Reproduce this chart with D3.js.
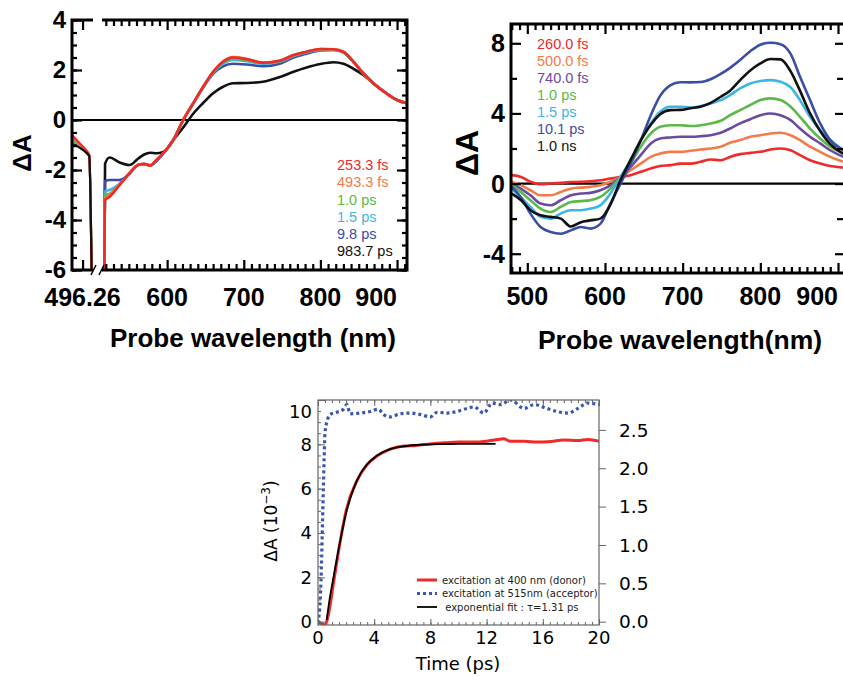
<!DOCTYPE html>
<html>
<head>
<meta charset="utf-8">
<script src="https://cdn.jsdelivr.net/npm/d3@7"></script>
<style>
  body { margin: 0; background: #fff; }
  svg { display: block; }
</style>
</head>
<body>
<svg width="843" height="676"></svg>
<script>
// ---------- panel A (top left) ----------
const labelsA = ["253.3 fs", "493.3 fs", "1.0 ps", "1.5 ps", "9.8 ps", "983.7 ps"];
const coloursA = ["#ee2a2a", "#f47b48", "#5cb848", "#3cb6e6", "#3a4ea6", "#111111"];
// left piece of the broken axis (around 496.26 nm)
const wlA_left = [494, 495, 496, 497, 497.7, 498.2];
const valsA_left = [
  [-0.6, -0.8, -1.0, -1.2, -1.4, -6],
  [-0.7, -0.85, -1.05, -1.22, -1.42, -6],
  [-0.8, -0.9, -1.08, -1.25, -1.43, -6],
  [-0.85, -0.95, -1.1, -1.27, -1.44, -6],
  [-0.95, -1.0, -1.12, -1.28, -1.45, -6],
  [-1.05, -1.05, -1.15, -1.3, -1.45, -6]
];
// main piece
const wlA = [518, 519, 525, 538, 551, 562, 570, 578, 586, 595, 608, 621, 634, 647, 660, 673, 686, 704, 725, 747, 765, 782, 800, 817, 830, 843, 856, 869, 886, 900, 913];
const valsA = [
  [-6, -3.2, -3.07, -2.6, -2.13, -1.8, -1.75, -1.83, -1.6, -1.33, -0.8, 0, 0.67, 1.33, 1.93, 2.33, 2.5, 2.43, 2.29, 2.37, 2.6, 2.73, 2.84, 2.83, 2.73, 2.33, 1.87, 1.47, 1.07, 0.8, 0.67],
  [-6, -3.15, -3.0, -2.58, -2.12, -1.8, -1.76, -1.82, -1.6, -1.33, -0.8, 0, 0.67, 1.33, 1.93, 2.35, 2.52, 2.45, 2.3, 2.38, 2.6, 2.73, 2.84, 2.83, 2.73, 2.33, 1.87, 1.47, 1.07, 0.8, 0.67],
  [-6, -3.0, -2.95, -2.57, -2.12, -1.8, -1.76, -1.82, -1.6, -1.33, -0.8, 0, 0.67, 1.33, 1.9, 2.3, 2.45, 2.4, 2.28, 2.35, 2.58, 2.72, 2.82, 2.82, 2.72, 2.33, 1.87, 1.47, 1.07, 0.8, 0.67],
  [-6, -2.85, -2.8, -2.55, -2.12, -1.8, -1.76, -1.82, -1.6, -1.33, -0.8, 0, 0.66, 1.3, 1.88, 2.25, 2.4, 2.35, 2.25, 2.33, 2.56, 2.7, 2.8, 2.8, 2.7, 2.33, 1.87, 1.47, 1.07, 0.8, 0.67],
  [-6, -2.45, -2.4, -2.4, -2.15, -1.8, -1.78, -1.8, -1.65, -1.35, -0.8, 0, 0.65, 1.3, 1.85, 2.15, 2.25, 2.22, 2.15, 2.25, 2.5, 2.65, 2.78, 2.8, 2.7, 2.33, 1.87, 1.47, 1.07, 0.8, 0.67],
  [-6, -1.75, -1.5, -1.7, -1.8, -1.55, -1.38, -1.31, -1.33, -1.28, -0.8, -0.3, 0.25, 0.68, 1.07, 1.33, 1.47, 1.48, 1.53, 1.72, 1.93, 2.1, 2.24, 2.31, 2.25, 2.05, 1.8, 1.47, 1.07, 0.8, 0.67]
];

// ---------- panel B (top right) ----------
const labelsB = ["260.0 fs", "500.0 fs", "740.0 fs", "1.0 ps", "1.5 ps", "10.1 ps", "1.0 ns"];
const coloursB = ["#ee2a2a", "#f47b48", "#6b4ba0", "#5cb848", "#3cb6e6", "#3a4ea6", "#111111"];
const wlB = [480, 492, 504, 517, 530, 543, 556, 569, 581, 594, 607, 620, 633, 646, 659, 671, 684, 697, 710, 723, 736, 749, 761, 774, 787, 800, 813, 826, 839, 851, 864, 877, 890, 907, 920];
const valsB = [
  [0.48, 0.38, 0.10, -0.04, 0.0, 0.04, 0.08, 0.10, 0.13, 0.19, 0.29, 0.38, 0.48, 0.67, 0.86, 1.0, 1.05, 1.14, 1.14, 1.24, 1.37, 1.33, 1.52, 1.68, 1.75, 1.81, 1.94, 2.0, 1.9, 1.62, 1.33, 1.14, 1.0, 0.91, 0.85],
  [0.1, -0.1, -0.38, -0.67, -0.67, -0.48, -0.29, -0.23, -0.19, -0.1, 0.1, 0.38, 0.76, 1.14, 1.52, 1.71, 1.81, 1.81, 1.87, 1.94, 2.0, 2.1, 2.33, 2.48, 2.67, 2.76, 2.86, 2.9, 2.76, 2.48, 2.1, 1.81, 1.52, 1.24, 1.1],
  [0.0, -0.3, -0.67, -1.14, -1.24, -0.95, -0.67, -0.57, -0.53, -0.38, -0.1, 0.38, 0.95, 1.62, 2.29, 2.57, 2.63, 2.67, 2.67, 2.7, 2.76, 2.9, 3.14, 3.43, 3.67, 3.9, 4.0, 3.9, 3.62, 3.14, 2.67, 2.29, 1.9, 1.52, 1.3],
  [-0.1, -0.5, -0.95, -1.43, -1.62, -1.33, -1.05, -1.0, -0.95, -0.76, -0.29, 0.38, 1.14, 2.1, 2.86, 3.24, 3.33, 3.33, 3.28, 3.33, 3.43, 3.58, 3.9, 4.19, 4.48, 4.76, 4.86, 4.76, 4.38, 3.81, 3.14, 2.57, 2.1, 1.71, 1.5],
  [-0.29, -0.8, -1.33, -1.9, -2.0, -1.71, -1.52, -1.52, -1.43, -1.24, -0.57, 0.38, 1.33, 2.48, 3.43, 4.1, 4.38, 4.38, 4.34, 4.42, 4.57, 4.76, 5.05, 5.43, 5.71, 5.85, 5.9, 5.81, 5.49, 4.76, 3.81, 3.05, 2.48, 1.9, 1.6],
  [-0.19, -0.8, -1.71, -2.48, -2.76, -2.86, -2.67, -2.48, -2.57, -2.3, -1.14, 0.0, 1.15, 2.45, 3.9, 5.0, 5.6, 5.78, 5.77, 5.79, 5.95, 6.25, 6.6, 7.05, 7.55, 7.92, 8.03, 7.95, 7.4, 6.1, 4.76, 3.43, 2.48, 1.9, 1.6],
  [-0.57, -0.95, -1.52, -1.81, -1.9, -2.0, -2.45, -2.2, -2.1, -2.0, -1.2, 0.2, 1.35, 2.45, 3.35, 3.95, 4.19, 4.2, 4.3, 4.38, 4.6, 4.95, 5.3, 5.9, 6.45, 6.85, 7.1, 7.08, 6.4, 5.3, 4.0, 3.0, 2.25, 1.71, 1.5]
];

// ---------- panel C (bottom) ----------
const timeDonor = [0, 0.3, 0.5, 0.7, 1.1, 1.6, 2.0, 2.8, 3.5, 4.2, 5.1, 6.1, 7.0, 8.0, 9.0, 10.0, 11.0, 12.0, 12.8, 13.2, 13.7, 14.7, 15.6, 16.6, 17.5, 18.5, 19.2, 20.0];
const donor = [0.0, -0.1, -0.15, 0.2, 1.73, 3.7, 5.0, 6.4, 7.09, 7.47, 7.77, 7.92, 7.95, 8.02, 8.07, 8.1, 8.1, 8.14, 8.22, 8.25, 8.14, 8.14, 8.1, 8.13, 8.19, 8.17, 8.22, 8.14];
const timeAcceptor = [0, 0.19, 0.38, 0.5, 0.67, 0.86, 1.33, 1.81, 2.05, 2.29, 3.0, 3.71, 4.3, 4.67, 5.14, 5.86, 6.57, 7.3, 8.0, 8.48, 9.2, 9.9, 10.6, 11.1, 11.8, 12.4, 13.0, 13.7, 14.67, 15.4, 16.3, 17.0, 17.8, 18.5, 19.2, 20.0];
const acceptor = [-0.02, 0.41, 1.72, 2.46, 2.63, 2.7, 2.73, 2.77, 2.83, 2.71, 2.72, 2.74, 2.77, 2.7, 2.67, 2.71, 2.72, 2.7, 2.67, 2.73, 2.72, 2.74, 2.78, 2.8, 2.72, 2.85, 2.83, 2.89, 2.78, 2.83, 2.78, 2.74, 2.72, 2.78, 2.85, 2.83];
const timeFit = [0.62, 0.8, 1.1, 1.6, 2.0, 2.5, 3.0, 3.5, 4.2, 5.0, 6.0, 7.0, 8.0, 9.0, 10.0, 11.0, 12.0, 12.64];
const fit = [0.08, 0.9, 2.0, 3.7, 4.9, 5.95, 6.65, 7.1, 7.5, 7.75, 7.9, 7.97, 8.0, 8.01, 8.02, 8.02, 8.02, 8.02];
const legendC = ["excitation at 400 nm (donor)", "excitation at 515nm (acceptor)", " exponential fit : \u03c4=1.31 ps"];

const svg = d3.select("svg");
const bold = "'Liberation Sans', Arial, sans-serif";
const lucida = "'DejaVu Sans', sans-serif";

// draws tick marks only (no labels, no domain line)
function ticks(axis, scale, values, size, tx, ty, width, colour) {
  const g = svg.append("g")
    .attr("transform", `translate(${tx},${ty})`)
    .call(axis(scale).tickValues(values).tickSize(size).tickFormat(""));
  g.select(".domain").remove();
  g.selectAll("line").attr("stroke", colour || "#000").attr("stroke-width", width);
  return g;
}

function curve(g, xs, ys, x, y) {
  return g.append("path")
    .datum(xs.map((d, i) => [d, ys[i]]))
    .attr("fill", "none")
    .attr("d", d3.line().x(d => x(d[0])).y(d => y(d[1])).curve(d3.curveMonotoneX));
}

// ================= panel A =================
const yA = d3.scaleLinear().domain([-6, 4]).range([270, 20]);
const xAL = d3.scaleLinear().domain([494, 498.5]).range([72, 93]);
const xA = d3.scaleLinear().domain([515, 913]).range([102, 407]);

const defs = svg.append("defs");
defs.append("clipPath").attr("id", "clipAL").append("rect").attr("x", 72).attr("y", 20).attr("width", 21).attr("height", 250);
defs.append("clipPath").attr("id", "clipA").append("rect").attr("x", 102).attr("y", 20).attr("width", 305).attr("height", 250);
defs.append("clipPath").attr("id", "clipB").append("rect").attr("x", 511).attr("y", 24).attr("width", 334).attr("height", 249);
defs.append("clipPath").attr("id", "clipC").append("rect").attr("x", 318).attr("y", 400).attr("width", 281).attr("height", 225);

// zero line
svg.append("line").attr("x1", 72).attr("x2", 407).attr("y1", yA(0)).attr("y2", yA(0))
  .attr("stroke", "#000").attr("stroke-width", 2.2);

const gAL = svg.append("g").attr("clip-path", "url(#clipAL)");
const gA = svg.append("g").attr("clip-path", "url(#clipA)");
const drawOrderA = [4, 3, 2, 1, 0, 5];
drawOrderA.forEach(i => {
  curve(gAL, wlA_left, valsA_left[i], xAL, yA).attr("stroke", coloursA[i]).attr("stroke-width", 2.2);
});
[5, 4, 3, 2, 1, 0].forEach(i => {
  curve(gA, wlA, valsA[i], xA, yA).attr("stroke", coloursA[i]).attr("stroke-width", 2.6);
});

// frame A (broken axis)
const frameA = svg.append("g").attr("stroke", "#000").attr("stroke-width", 3).attr("fill", "none");
frameA.append("path").attr("d", `M93,20H72V270H93`);
frameA.append("path").attr("d", `M102,20H407V270H102`);
frameA.append("path").attr("d", "M91,275L96,265M99,275L104,265").attr("stroke-width", 1.5);

const minorWlA = d3.range(520, 911, 10).filter(d => d % 100 !== 0);
ticks(d3.axisBottom, xA, minorWlA, -6, 0, 270, 2.2);
ticks(d3.axisBottom, xA, [600, 700, 800, 900], -10, 0, 270, 2.2);
ticks(d3.axisTop, xA, minorWlA, -6, 0, 20, 2.2);
ticks(d3.axisTop, xA, [600, 700, 800, 900], -10, 0, 20, 2.2);
ticks(d3.axisBottom, xAL, [496.26], -10, 0, 270, 2.2);
ticks(d3.axisTop, xAL, [496.26], -10, 0, 20, 2.2);
const minorYA = d3.range(-6, 4.01, 0.5);
ticks(d3.axisLeft, yA, minorYA, -5, 72, 0, 2.2);
ticks(d3.axisLeft, yA, [-6, -4, -2, 0, 2, 4], -10, 72, 0, 2.2);
ticks(d3.axisRight, yA, minorYA, -5, 407, 0, 2.2);
ticks(d3.axisRight, yA, [-6, -4, -2, 0, 2, 4], -10, 407, 0, 2.2);

// tick labels A
svg.append("g").selectAll("text").data([-6, -4, -2, 0, 2, 4]).join("text")
  .attr("x", 66).attr("y", d => yA(d)).attr("dy", "0.34em")
  .attr("text-anchor", "end").attr("font-family", bold).attr("font-weight", "bold").attr("font-size", 24)
  .text(d => d);
svg.append("text").attr("x", xAL(496.26)).attr("y", 306)
  .attr("text-anchor", "middle").attr("font-family", bold).attr("font-weight", "bold").attr("font-size", 25)
  .text("496.26");
svg.append("g").selectAll("text").data([600, 700, 800, 900]).join("text")
  .attr("x", d => xA(d)).attr("y", 306)
  .attr("text-anchor", d => d === 900 ? "end" : "middle")
  .attr("font-family", bold).attr("font-weight", "bold").attr("font-size", 25)
  .text(d => d);
svg.append("text").attr("transform", "translate(31,153) rotate(-90)")
  .attr("text-anchor", "middle").attr("font-family", bold).attr("font-weight", "bold").attr("font-size", 26)
  .text("\u0394A");
svg.append("text").attr("x", 253).attr("y", 347)
  .attr("text-anchor", "middle").attr("font-family", bold).attr("font-weight", "bold").attr("font-size", 26)
  .text("Probe wavelength (nm)");

// legend A
svg.append("g").selectAll("text").data(labelsA).join("text")
  .attr("x", 337).attr("y", (d, i) => 165 + i * 17.2).attr("dy", "0.36em")
  .attr("font-family", bold).attr("font-size", 14.5)
  .attr("fill", (d, i) => coloursA[i])
  .text(d => d);

// ================= panel B =================
const xB = d3.scaleLinear().domain([479, 909]).range([511, 845]);
const yB = d3.scaleLinear().domain([-5.1, 9.1]).range([273, 24]);

svg.append("line").attr("x1", 511).attr("x2", 845).attr("y1", yB(0)).attr("y2", yB(0))
  .attr("stroke", "#000").attr("stroke-width", 2.2);
const gB = svg.append("g").attr("clip-path", "url(#clipB)");
valsB.forEach((v, i) => {
  curve(gB, wlB, v, xB, yB).attr("stroke", coloursB[i]).attr("stroke-width", 2.6);
});
svg.append("rect").attr("x", 511).attr("y", 24).attr("width", 334).attr("height", 249)
  .attr("fill", "none").attr("stroke", "#000").attr("stroke-width", 3);

const minorWlB = d3.range(480, 901, 10).filter(d => d % 100 !== 0);
const majorWlB = [500, 600, 700, 800, 900];
ticks(d3.axisBottom, xB, minorWlB, -6, 0, 273, 2.2);
ticks(d3.axisBottom, xB, majorWlB, -10, 0, 273, 2.2);
ticks(d3.axisTop, xB, minorWlB, -6, 0, 24, 2.2);
ticks(d3.axisTop, xB, majorWlB, -10, 0, 24, 2.2);
ticks(d3.axisLeft, yB, [-2, 2, 6], -6, 511, 0, 2.2);
ticks(d3.axisLeft, yB, [-4, 0, 4, 8], -10, 511, 0, 2.2);
ticks(d3.axisRight, yB, [-2, 2, 6], -8, 845, 0, 2.2);
ticks(d3.axisRight, yB, [-4, 0, 4, 8], -10, 845, 0, 2.2);

svg.append("g").selectAll("text").data([-4, 0, 4, 8]).join("text")
  .attr("x", 505).attr("y", d => yB(d)).attr("dy", "0.36em")
  .attr("text-anchor", "end").attr("font-family", bold).attr("font-weight", "bold").attr("font-size", 25)
  .text(d => d);
svg.append("g").selectAll("text").data(majorWlB).join("text")
  .attr("x", d => xB(d)).attr("y", 305)
  .attr("text-anchor", d => d === 900 ? "end" : "middle")
  .attr("font-family", bold).attr("font-weight", "bold").attr("font-size", 25)
  .text(d => d);
svg.append("text").attr("transform", "translate(478,153) rotate(-90)")
  .attr("text-anchor", "middle").attr("font-family", bold).attr("font-weight", "bold").attr("font-size", 32)
  .text("\u0394A");
svg.append("text").attr("x", 680).attr("y", 349)
  .attr("text-anchor", "middle").attr("font-family", bold).attr("font-weight", "bold").attr("font-size", 26.5)
  .text("Probe wavelength(nm)");

svg.append("g").selectAll("text").data(labelsB).join("text")
  .attr("x", 537).attr("y", (d, i) => 43.5 + i * 17).attr("dy", "0.36em")
  .attr("font-family", bold).attr("font-size", 14.5)
  .attr("fill", (d, i) => coloursB[i])
  .text(d => d);

// ================= panel C =================
const xC = d3.scaleLinear().domain([0, 20]).range([318, 599]);
const yC = d3.scaleLinear().domain([-0.15, 10]).range([625, 400]);
const yCR = d3.scaleLinear().domain([-0.043, 2.89]).range([625, 400]);
const gC = svg.append("g").attr("clip-path", "url(#clipC)");

curve(gC, timeAcceptor, acceptor, xC, yCR)
  .attr("stroke", "#3a55b4").attr("stroke-width", 3.2).attr("stroke-dasharray", "3,3");
curve(gC, timeDonor, donor, xC, yC).attr("stroke", "#ee2a2a").attr("stroke-width", 3);
curve(gC, timeFit, fit, xC, yC).attr("stroke", "#000").attr("stroke-width", 1.8);

svg.append("rect").attr("x", 318).attr("y", 400).attr("width", 281).attr("height", 225)
  .attr("fill", "none").attr("stroke", "#666").attr("stroke-width", 1.2);
const minorT = d3.range(0, 20.01, 0.5);
ticks(d3.axisBottom, xC, minorT, -3, 0, 625, 1, "#666");
ticks(d3.axisBottom, xC, [0, 4, 8, 12, 16, 20], -6, 0, 625, 1, "#666");
ticks(d3.axisTop, xC, minorT, -3, 0, 400, 1, "#666");
ticks(d3.axisTop, xC, [0, 4, 8, 12, 16, 20], -6, 0, 400, 1, "#666");
ticks(d3.axisLeft, yC, d3.range(0, 10.01, 0.5), -3, 318, 0, 1, "#666");
ticks(d3.axisLeft, yC, [0, 2, 4, 6, 8, 10], -7, 318, 0, 1, "#666");
ticks(d3.axisRight, yCR, [0, 0.5, 1, 1.5, 2, 2.5], 7, 599, 0, 1, "#666");

svg.append("g").selectAll("text").data([0, 2, 4, 6, 8, 10]).join("text")
  .attr("x", 312).attr("y", d => d === 10 ? yC(d) + 12 : yC(d)).attr("dy", "0.36em")
  .attr("text-anchor", "end").attr("font-family", lucida).attr("font-size", 18)
  .text(d => d);
svg.append("g").selectAll("text").data([0, 4, 8, 12, 16, 20]).join("text")
  .attr("x", d => xC(d)).attr("y", 638).attr("dy", "0.36em")
  .attr("text-anchor", "middle").attr("font-family", lucida).attr("font-size", 18)
  .text(d => d);
svg.append("g").selectAll("text").data([0, 0.5, 1, 1.5, 2, 2.5]).join("text")
  .attr("x", 619).attr("y", d => yCR(d)).attr("dy", "0.36em")
  .attr("font-family", lucida).attr("font-size", 18.5)
  .text(d => d3.format(".1f")(d));
svg.append("text").attr("x", 458).attr("y", 664).attr("dy", "0.36em")
  .attr("text-anchor", "middle").attr("font-family", lucida).attr("font-size", 18)
  .text("Time (ps)");
const yt = svg.append("text").attr("transform", "translate(277,521) rotate(-90)")
  .attr("text-anchor", "middle").attr("font-family", lucida).attr("font-size", 17);
yt.append("tspan").text("\u0394A (10");
yt.append("tspan").attr("font-size", 12).attr("dy", -7).text("\u22123");
yt.append("tspan").attr("dy", 7).text(")");

// legend C
const legC = svg.append("g");
const legStyles = [
  { c: "#ee2a2a", w: 3, dash: null },
  { c: "#3a55b4", w: 3.2, dash: "3,3" },
  { c: "#000", w: 1.8, dash: null }
];
legendC.forEach((t, i) => {
  const y = 580 + i * 13.5;
  legC.append("line").attr("x1", 417).attr("x2", 437).attr("y1", y).attr("y2", y)
    .attr("stroke", legStyles[i].c).attr("stroke-width", legStyles[i].w)
    .attr("stroke-dasharray", legStyles[i].dash);
  legC.append("text").attr("x", 442).attr("y", y).attr("dy", "0.36em")
    .attr("font-family", lucida).attr("font-size", 10).attr("fill", "#222")
    .style("white-space", "pre")
    .text(t);
});
</script>
</body>
</html>
